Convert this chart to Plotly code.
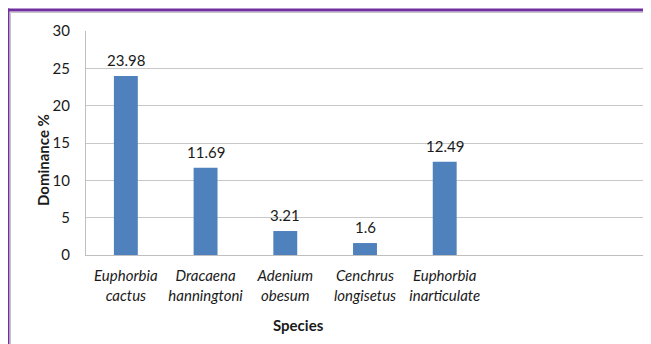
import plotly.graph_objects as go

species = ["<i>Euphorbia</i><br><i>cactus</i>", "<i>Dracaena</i><br><i>hanningtoni</i>",
           "<i>Adenium</i><br><i>obesum</i>", "<i>Cenchrus</i><br><i>longisetus</i>",
           "<i>Euphorbia</i><br><i>inarticulate</i>", " ", "  "]
dominance = [23.98, 11.69, 3.21, 1.6, 12.49, None, None]
value_labels = ["23.98", "11.69", "3.21", "1.6", "12.49", "", ""]
y_ticks = [0, 5, 10, 15, 20, 25, 30]
x_title = "Species"
y_title = "Dominance %"

FONT = "Lato, 'Open Sans', sans-serif"
TXT = "#1a1a1a"

# page has an 8px body margin; figure coordinates = page - 8
OFF = 8
FW, FH = 651 - OFF, 344 - OFF
L, R_EDGE, T, B_EDGE = 86 - OFF, 644 - OFF, 31 - OFF, 255 - OFF
W, H = float(R_EDGE - L), float(B_EDGE - T)


def px(x):
    return (x - OFF - L) / W


def py(y):
    return (B_EDGE - (y - OFF)) / H


fig = go.Figure()
fig.add_trace(go.Bar(
    x=species, y=dominance, marker=dict(color="#4F81BD", line=dict(width=0)),
    width=0.3, hoverinfo="skip"
))
for xv, yv, lab in zip(species, dominance, value_labels):
    if yv is None:
        continue
    fig.add_annotation(x=xv, y=yv, text=lab, showarrow=False, yanchor="middle",
                       yshift=16, font=dict(family=FONT, size=15, color=TXT))

fig.update_layout(
    width=FW, height=FH,
    margin=dict(l=L, r=FW - R_EDGE, t=T, b=FH - B_EDGE, pad=0),
    paper_bgcolor="white", plot_bgcolor="white",
    showlegend=False,
    font=dict(family=FONT, color=TXT, size=15),
)
fig.update_xaxes(
    type="category", range=[-0.5, 6.5],
    showline=True, linecolor="#BFBFBF", linewidth=1,
    showgrid=False, ticks="", ticklabelstandoff=7,
    tickfont=dict(family=FONT, size=15, color=TXT),
    automargin=False,
)
fig.update_yaxes(
    range=[0, 30], tickvals=y_ticks, ticktext=[str(t) for t in y_ticks],
    showline=True, linecolor="#BFBFBF", linewidth=1,
    showgrid=True, gridcolor="#C8C8C8", gridwidth=1,
    zeroline=False, ticks="", ticklabelstandoff=12,
    tickfont=dict(family=FONT, size=15, color=TXT),
    automargin=False,
)
# axis titles (positioned as in the reference, not centred on the plot)
fig.add_annotation(xref="paper", yref="paper", x=px(298), y=py(325), text="<b>%s</b>" % x_title,
                   showarrow=False, xanchor="center", yanchor="middle",
                   font=dict(family=FONT, size=15, color=TXT))
fig.add_annotation(xref="paper", yref="paper", x=px(43), y=py(160), text="<b>%s</b>" % y_title,
                   showarrow=False, xanchor="center", yanchor="middle", textangle=-90,
                   font=dict(family=FONT, size=15, color=TXT))

# purple frame (top and left visible)
fig.add_shape(type="line", xref="paper", yref="paper", x0=px(7.5), x1=px(670), y0=py(10), y1=py(10),
              line=dict(color="#7030A0", width=3))
fig.add_shape(type="line", xref="paper", yref="paper", x0=px(8), x1=px(8), y0=py(8.5), y1=py(360),
              line=dict(color="#7030A0", width=3))
fig.add_shape(type="line", xref="paper", yref="paper", x0=px(10.5), x1=px(670), y0=py(12.5), y1=py(12.5),
              line=dict(color="#C4C4C4", width=1))
fig.add_shape(type="line", xref="paper", yref="paper", x0=px(10.5), x1=px(10.5), y0=py(12.5), y1=py(360),
              line=dict(color="#C4C4C4", width=1))

fig.write_html("out.html")
